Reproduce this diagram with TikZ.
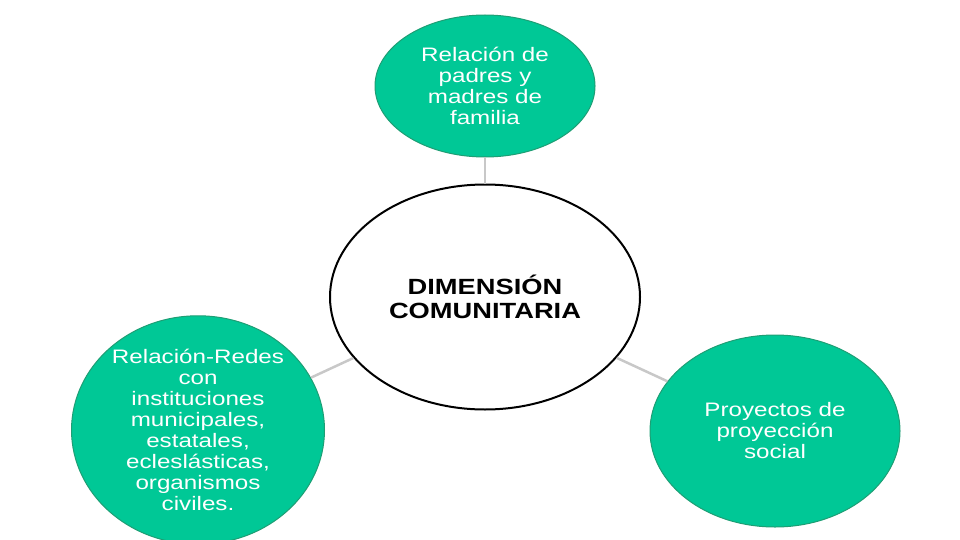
\documentclass[tikz,border=0pt]{standalone}
\usepackage{fontspec}
\setmainfont{Liberation Sans}
\newfontfamily\ancha[FakeStretch=1.24]{Liberation Sans}
\usetikzlibrary{arrows}
\usetikzlibrary{positioning,shapes}
\definecolor{verde}{HTML}{00C896}
\definecolor{verdeborde}{HTML}{1E9E74}
\definecolor{gris}{HTML}{C8C8C8}
\tikzset{
  rama/.style={ellipse,fill=verde,draw=verdeborde,line width=1pt,inner sep=0pt,
    text=white,align=center,font=\ancha\fontsize{19.5}{21}\selectfont},
  eje/.style={ellipse,draw=black,line width=2pt,fill=white,inner sep=0pt,
    align=center,font=\ancha\fontsize{22}{24}\selectfont\bfseries}
}

\begin{document}
\begin{tikzpicture}[x=1pt,y=-1pt]
  \useasboundingbox (0,0) rectangle (960,540);
  \node (D) [eje,minimum width=310,minimum height=225] at (485,297)
    {DIMENSIÓN\\COMUNITARIA};
  \node (P) [rama,minimum width=220,minimum height=142] at (485,86)
    {Relación de\\padres y\\madres de\\familia};
  \node (R) [rama,minimum width=253,minimum height=190] at (198,430)
    {Relación-Redes\\con\\instituciones\\municipales,\\estatales,\\ecleslásticas,\\organismos\\civiles.};
  \node (S) [rama,minimum width=250,minimum height=192] at (775,431)
    {Proyectos de\\proyección\\social};
  \draw[gris,line width=2.5pt]
  (D) edge (P)
  (D) edge (R)
  (D) edge (S);
\end{tikzpicture}
\end{document}
